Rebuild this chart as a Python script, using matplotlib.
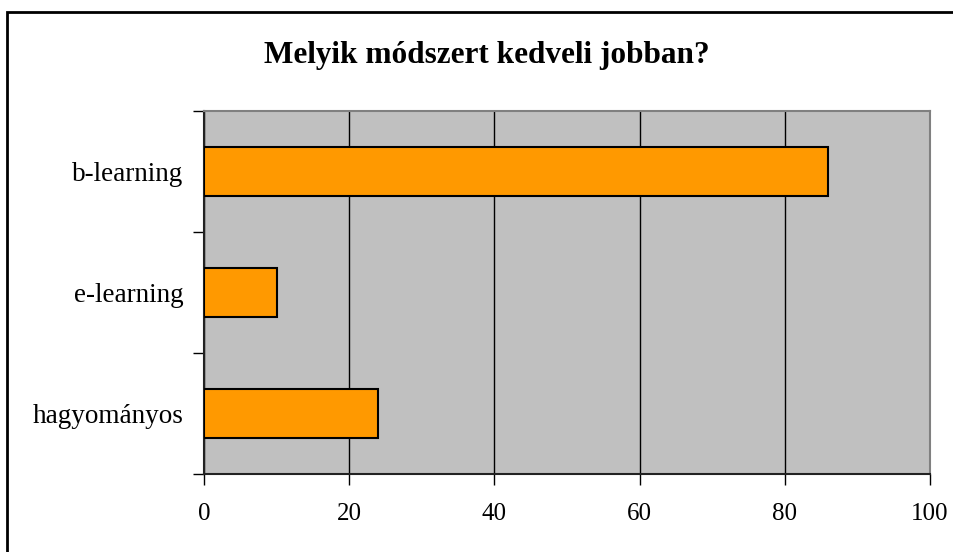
import matplotlib
matplotlib.use("Agg")
import matplotlib.pyplot as plt
from matplotlib.patches import Rectangle

categories = ["hagyományos", "e-learning", "b-learning"]
values = [24, 10, 86]
x_ticks = [0, 20, 40, 60, 80, 100]

plt.rcParams['font.family'] = ['Liberation Serif', 'DejaVu Serif']

W, H = 954, 552
fig = plt.figure(figsize=(W / 100, H / 100), dpi=100)

# outer chart border (runs off the right/bottom edge)
fig.patches.append(Rectangle((7 / W, -0.05), 1.1, 1 - 12 / H + 0.05,
                             transform=fig.transFigure, fill=False,
                             edgecolor='black', linewidth=2.0, zorder=0))

ax = fig.add_axes([204 / W, 1 - 474 / H, (930 - 204) / W, (474 - 111) / H])
ax.set_facecolor('#c0c0c0')

ax.barh(range(len(categories)), values, height=0.4, color='#ff9900',
        edgecolor='black', linewidth=1.5, zorder=3)

ax.set_xlim(0, 100)
ax.set_ylim(-0.5, len(categories) - 0.5)
ax.set_xticks(x_ticks)
ax.set_xticklabels([str(t) for t in x_ticks], fontsize=18)
ax.set_yticks(range(len(categories)))
ax.set_yticklabels(categories, fontsize=19.5)
ax.set_yticks([i - 0.5 for i in range(len(categories) + 1)], minor=True)

ax.grid(axis='x', color='black', linewidth=1, zorder=1)
ax.tick_params(axis='y', which='major', length=0, pad=15)
ax.tick_params(axis='y', which='minor', length=8, width=1, direction='out')
ax.tick_params(axis='x', length=8, width=1, direction='out', pad=13)

for side in ['left', 'bottom']:
    ax.spines[side].set_color('#222222')
    ax.spines[side].set_linewidth(1.5)
for side in ['top', 'right']:
    ax.spines[side].set_color('#808080')
    ax.spines[side].set_linewidth(1.5)

fig.text(487 / W, 1 - 63 / H, "Melyik módszert kedveli jobban?",
         ha='center', va='baseline', fontsize=22.5, fontweight='bold')

fig.savefig("out.png", dpi=100)
